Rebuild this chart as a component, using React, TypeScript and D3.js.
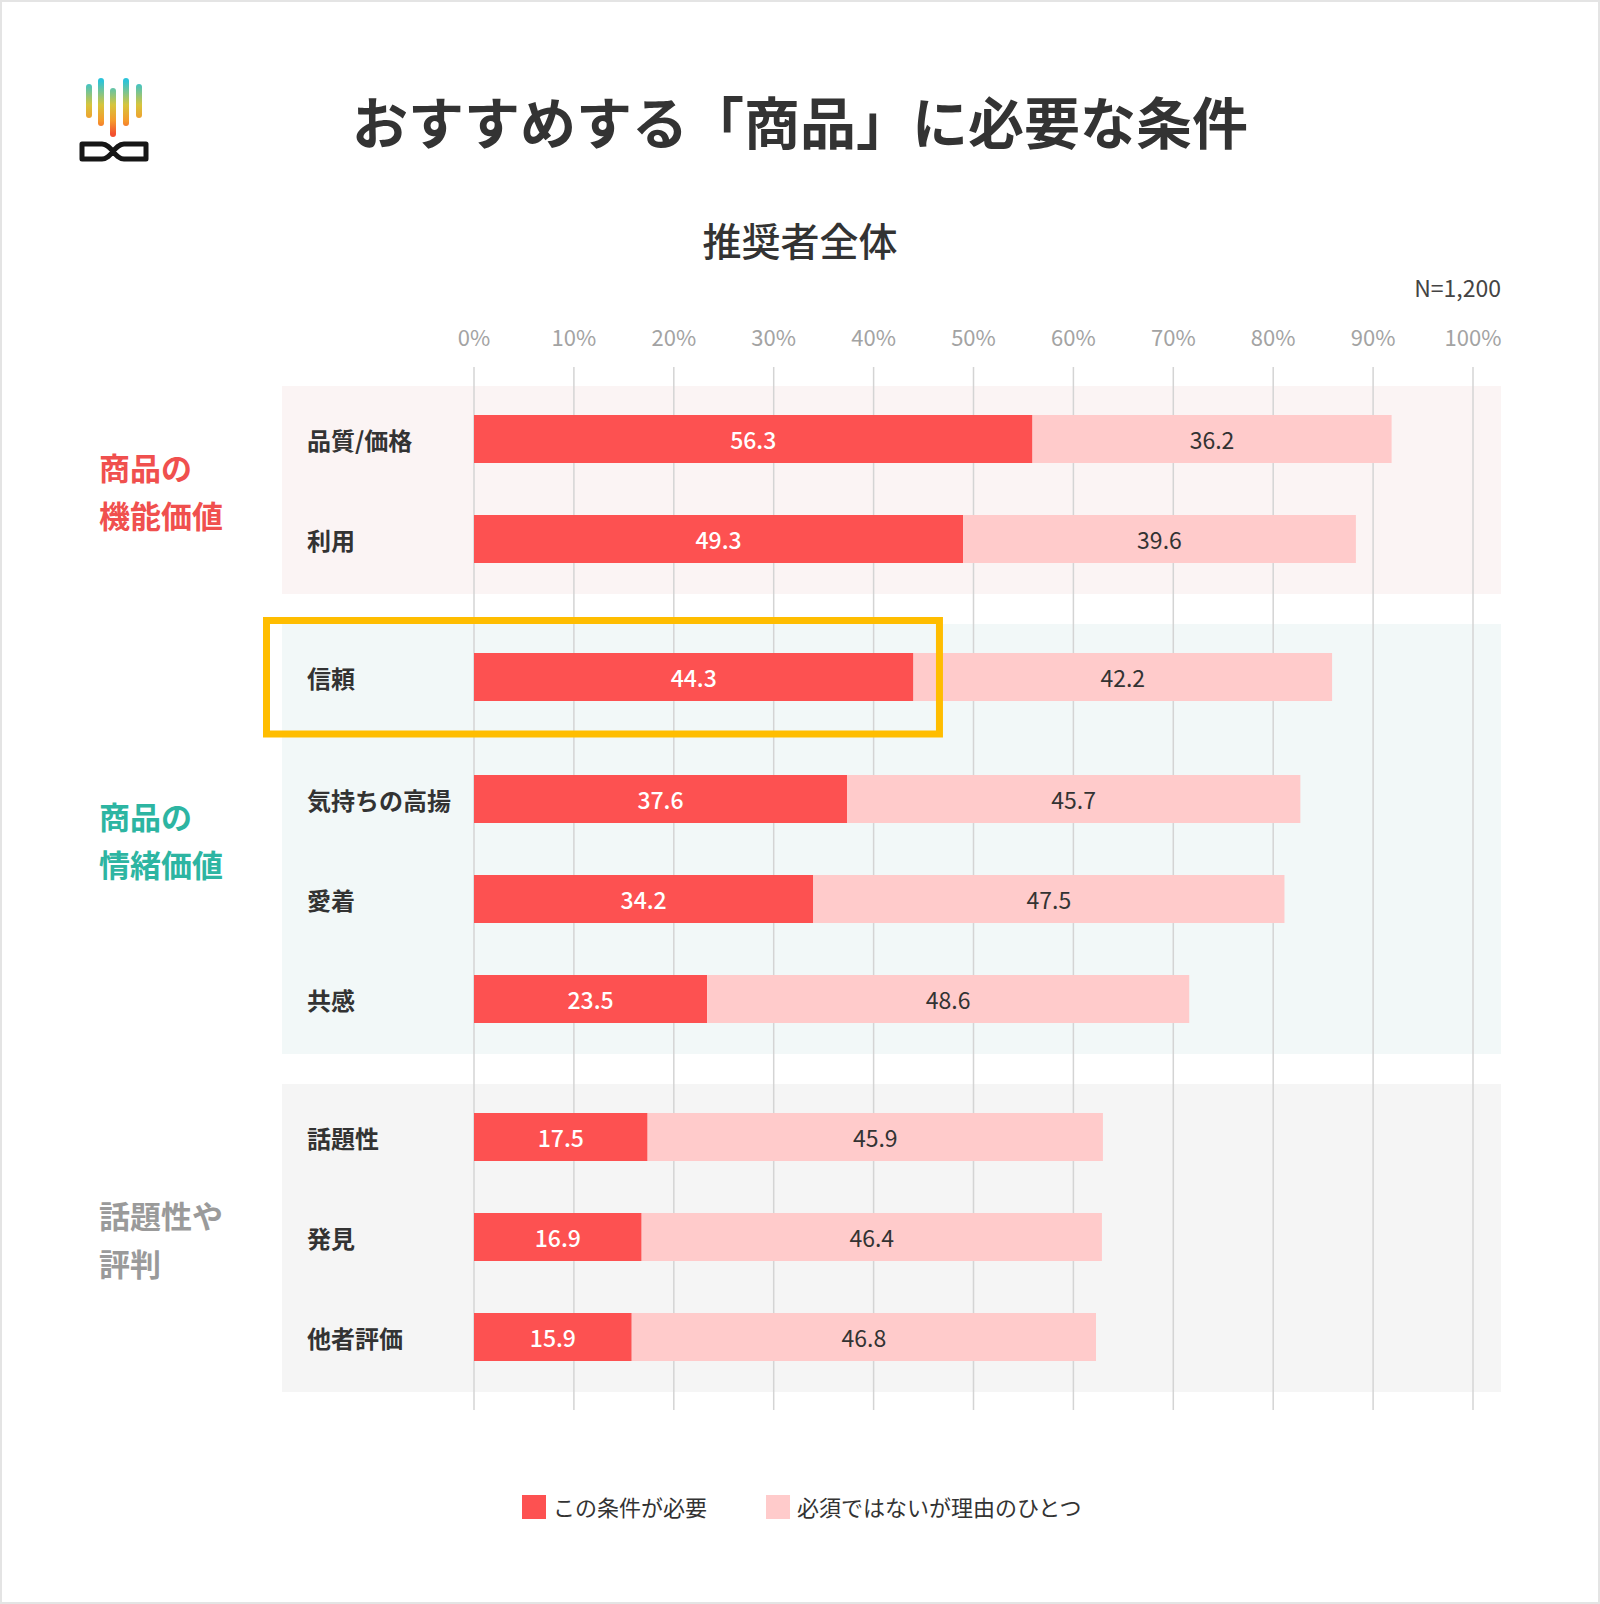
import React from "react";
import * as d3 from "d3";

// ---- Data ----
const categories = ["品質/価格", "利用", "信頼", "気持ちの高揚", "愛着", "共感", "話題性", "発見", "他者評価"];
const requiredValues = [56.3, 49.3, 44.3, 37.6, 34.2, 23.5, 17.5, 16.9, 15.9];
const oneOfReasonsValues = [36.2, 39.6, 42.2, 45.7, 47.5, 48.6, 45.9, 46.4, 46.8];
const groupLabels = [["商品の", "機能価値"], ["商品の", "情緒価値"], ["話題性や", "評判"]];
const groupSizes = [2, 4, 3];
const highlightedCategory = "信頼";
const tickValues = [0, 10, 20, 30, 40, 50, 60, 70, 80, 90, 100];
const seriesNames = ["この条件が必要", "必須ではないが理由のひとつ"];
const titleText = "おすすめする「商品」に必要な条件";
const subtitleText = "推奨者全体";
const sampleText = "N=1,200";

// ---- Styles ----
const FONT = "'Noto Sans CJK JP', 'Noto Sans', sans-serif";
const RED = "#fd5151";
const PINK = "#ffcbcb";
const groupColors = ["#f0504e", "#2db5a2", "#9a9a9a"];
const groupBg = ["#fbf4f4", "#f2f8f8", "#f5f5f5"];

const W = 1600;
const H = 1604;

export default function App() {
  const gridX = d3.scaleLinear().domain([0, 100]).range([474, 1473]);
  const barX = d3.scaleLinear().domain([0, 100]).range([474, 1466]);

  // vertical layout
  const rowCenters: number[] = [];
  const groupBoxes: { top: number; bottom: number }[] = [];
  let cursor = 386;
  let idx = 0;
  groupSizes.forEach((n) => {
    const top = cursor;
    let y = top + 53;
    let last = y;
    for (let i = 0; i < n; i++) {
      rowCenters.push(y);
      last = y;
      y += 100 + (categories[idx] === highlightedCategory ? 22 : 0);
      idx++;
    }
    const bottom = last + 55;
    groupBoxes.push({ top, bottom });
    cursor = bottom + 30;
  });
  const yScale = d3.scaleOrdinal<string, number>().domain(categories).range(rowCenters);
  const barH = 48;

  const gridTop = 367;
  const gridBottom = 1410;
  const bgLeft = 282;
  const bgRight = 1501;

  const hiIdx = categories.indexOf(highlightedCategory);
  const hiY = yScale(highlightedCategory);

  return (
    <div style={{ position: "absolute", left: 0, top: 0 }}>
      <svg width={W} height={H} style={{ display: "block" }} fontFamily={FONT}>
        <defs>
          <linearGradient id="logoGrad" gradientUnits="userSpaceOnUse" x1="0" y1="81" x2="0" y2="134">
            <stop offset="0" stopColor="#2cc3d9" />
            <stop offset="0.45" stopColor="#d6c53c" />
            <stop offset="0.75" stopColor="#f59a2c" />
            <stop offset="1" stopColor="#f3502f" />
          </linearGradient>
        </defs>
        <rect x={1} y={1} width={W - 2} height={H - 2} fill="#fff" stroke="#e4e4e4" strokeWidth={2} />

        {/* Logo */}
        <g>
          {[
            [89, 87, 115],
            [101, 81, 123],
            [113, 91, 134],
            [126, 81, 123],
            [139, 87, 115],
          ].map(([x, y1, y2], i) => (
            <line key={i} x1={x} x2={x} y1={y1} y2={y2} stroke="url(#logoGrad)" strokeWidth={6} strokeLinecap="round" />
          ))}
          <path
            d="M82,144 H102 C112,144 114,159 124,159 H146 V144 H124 C114,144 112,159 102,159 H82 Z"
            fill="none"
            stroke="#161616"
            strokeWidth={5}
            strokeLinejoin="round"
          />
        </g>

        {/* Titles */}
        <text x={800} y={119} textAnchor="middle" dominantBaseline="central" fontSize={56} fontWeight={700} fill="#333">
          {titleText}
        </text>
        <text x={800} y={239} textAnchor="middle" dominantBaseline="central" fontSize={39} fontWeight={500} fill="#333">
          {subtitleText}
        </text>
        <text x={1501} y={287} textAnchor="end" dominantBaseline="central" fontSize={23} fill="#444">
          {sampleText}
        </text>

        {/* Group backgrounds */}
        {groupBoxes.map((g, i) => (
          <rect key={i} x={bgLeft} y={g.top} width={bgRight - bgLeft} height={g.bottom - g.top} fill={groupBg[i]} />
        ))}

        {/* Group labels */}
        {groupBoxes.map((g, i) => {
          const c = (g.top + g.bottom) / 2;
          return (
            <text key={i} x={99} fontSize={31} fontWeight={700} fill={groupColors[i]} dominantBaseline="central">
              {groupLabels[i].map((line, j) => (
                <tspan key={j} x={99} y={c - 24 + j * 48}>
                  {line}
                </tspan>
              ))}
            </text>
          );
        })}

        {/* Ticks and grid */}
        {tickValues.map((t) => (
          <g key={t}>
            <line x1={gridX(t)} x2={gridX(t)} y1={gridTop} y2={gridBottom} stroke="#d4d4d4" strokeWidth={1.5} />
            <text x={gridX(t)} y={336} textAnchor="middle" dominantBaseline="central" fontSize={22} fill="#a3a3a3">
              {t}%
            </text>
          </g>
        ))}

        {/* Bars */}
        {categories.map((c, i) => {
          const y = yScale(c);
          const r = requiredValues[i];
          const p = oneOfReasonsValues[i];
          return (
            <g key={c}>
              <text x={307} y={y} dominantBaseline="central" fontSize={24} fontWeight={700} fill="#333">
                {c}
              </text>
              <rect x={barX(0)} y={y - barH / 2} width={barX(r) - barX(0)} height={barH} fill={RED} />
              <rect x={barX(r)} y={y - barH / 2} width={barX(r + p) - barX(r)} height={barH} fill={PINK} />
              <text
                x={(barX(0) + barX(r)) / 2}
                y={y}
                textAnchor="middle"
                dominantBaseline="central"
                fontSize={23}
                fontWeight={500}
                fill="#fff"
              >
                {r.toFixed(1)}
              </text>
              <text
                x={(barX(r) + barX(r + p)) / 2}
                y={y}
                textAnchor="middle"
                dominantBaseline="central"
                fontSize={23}
                fontWeight={400}
                fill="#333"
              >
                {p.toFixed(1)}
              </text>
            </g>
          );
        })}

        {/* Highlight box */}
        <rect
          x={266.5}
          y={hiY - 56.5}
          width={barX(requiredValues[hiIdx]) + 26 - 266.5}
          height={113.5}
          fill="none"
          stroke="#ffbd00"
          strokeWidth={7}
        />

        {/* Legend */}
        <g>
          <rect x={522} y={1495} width={24} height={24} fill={RED} />
          <text x={553} y={1506} dominantBaseline="central" fontSize={22} fill="#333">
            {seriesNames[0]}
          </text>
          <rect x={766} y={1495} width={24} height={24} fill={PINK} />
          <text x={797} y={1506} dominantBaseline="central" fontSize={22} fill="#333">
            {seriesNames[1]}
          </text>
        </g>
      </svg>
    </div>
  );
}
